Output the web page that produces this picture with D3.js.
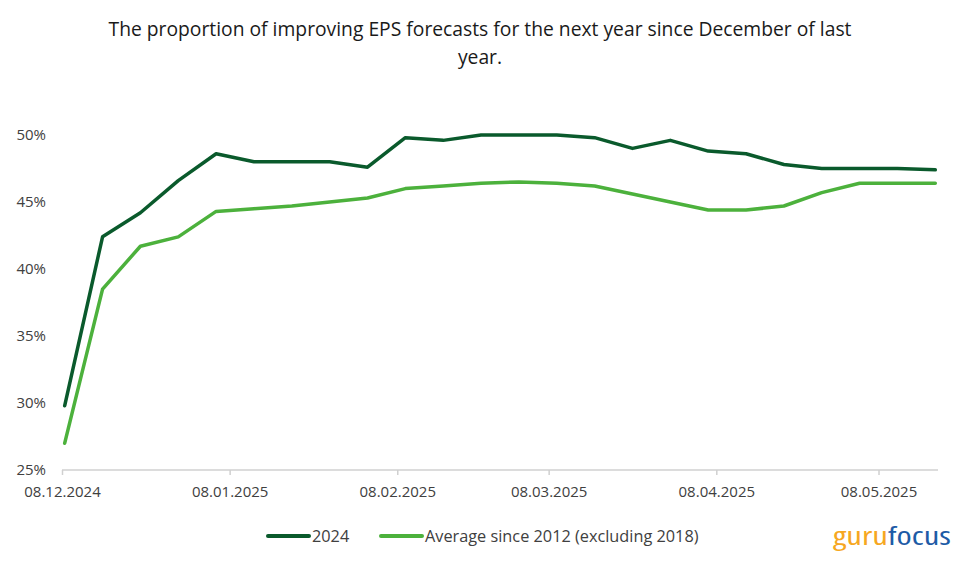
<!DOCTYPE html>
<html>
<head>
<meta charset="utf-8">
<script src="https://cdn.jsdelivr.net/npm/d3@7"></script>
<style>
  html, body { margin: 0; padding: 0; background: #fff; }
  svg { display: block; }
  text { font-family: "Open Sans", "Liberation Sans", sans-serif; }
</style>
</head>
<body>
<svg id="chart" width="960" height="565"></svg>
<script>
// ---- data ----
const startDate = "2024-12-08";
const weekCount = 24;
const series2024 = [29.8, 42.4, 44.2, 46.6, 48.6, 48.0, 48.0, 48.0, 47.6, 49.8, 49.6, 50.0,
                    50.0, 50.0, 49.8, 49.0, 49.6, 48.8, 48.6, 47.8, 47.5, 47.5, 47.5, 47.4];
const seriesAvg = [27.0, 38.5, 41.7, 42.4, 44.3, 44.5, 44.7, 45.0, 45.3, 46.0, 46.2, 46.4,
                   46.5, 46.4, 46.2, 45.6, 45.0, 44.4, 44.4, 44.7, 45.7, 46.4, 46.4, 46.4];
const yTicks = [25, 30, 35, 40, 45, 50];
const xTickLabels = ["08.12.2024", "08.01.2025", "08.02.2025", "08.03.2025", "08.04.2025", "08.05.2025"];
const seriesNames = ["2024", "Average since 2012 (excluding 2018)"];
const titleLines = ["The proportion of improving EPS forecasts for the next year since December of last", "year."];

// ---- build ----
const parse = d3.timeParse("%d.%m.%Y");
const iso = d3.timeParse("%Y-%m-%d");
const d0 = iso(startDate);
const dates = d3.range(weekCount).map(i => d3.timeHour.offset(d3.timeDay.offset(d0, 7 * i), 12));
const tickDates = xTickLabels.map(parse);

const svg = d3.select("#chart");
const x = d3.scaleTime().domain([d0, d3.timeDay.offset(d0, 162)]).range([62, 938]);
const y = d3.scaleLinear().domain([25, 50]).range([470, 135]);

const colors = ["#0a5a2c", "#4cb13c"];

// title
svg.append("g").selectAll("text").data(titleLines).join("text")
  .attr("x", 480).attr("y", (d, i) => 36 + i * 28)
  .attr("text-anchor", "middle")
  .attr("font-size", 19.3).attr("fill", "#1a1a1a")
  .text(d => d);

// y axis (labels only)
const yAxis = d3.axisLeft(y).tickValues(yTicks).tickSize(0).tickPadding(0)
  .tickFormat(d => d + "%");
const gy = svg.append("g").attr("transform", "translate(46,0)").call(yAxis);
gy.select(".domain").remove();
gy.selectAll("text").attr("font-size", 15).attr("fill", "#404040")
  .style("font-family", "'Open Sans', sans-serif");

// x axis
const xAxis = d3.axisBottom(x).tickValues(tickDates).tickSize(5).tickPadding(11)
  .tickFormat(d3.timeFormat("%d.%m.%Y"));
const gx = svg.append("g").attr("transform", "translate(0,470)").call(xAxis);
gx.select(".domain").attr("stroke", "#d0d0d0").attr("stroke-width", 1.5).attr("d", `M${x.range()[0]},0H${x.range()[1]}`);
gx.selectAll(".tick line").attr("stroke", "#d0d0d0").attr("stroke-width", 1.5);
gx.selectAll("text").attr("font-size", 15).attr("fill", "#404040")
  .style("font-family", "'Open Sans', sans-serif");

// lines
const line = d3.line().x((d, i) => x(dates[i])).y(d => y(d));
[seriesAvg, series2024].forEach((s, k) => {
  const ci = k === 0 ? 1 : 0;
  svg.append("path").datum(s)
    .attr("fill", "none").attr("stroke", colors[ci])
    .attr("stroke-width", 3.5).attr("stroke-linejoin", "round").attr("stroke-linecap", "round")
    .attr("d", line);
});

// legend
const legendX = [268, 381];
const lg = svg.append("g");
seriesNames.forEach((name, i) => {
  lg.append("line").attr("x1", legendX[i]).attr("x2", legendX[i] + 41)
    .attr("y1", 536).attr("y2", 536)
    .attr("stroke", colors[i]).attr("stroke-width", 4).attr("stroke-linecap", "round");
  lg.append("text").attr("x", legendX[i] + 44).attr("y", 542)
    .attr("font-size", 16.3).attr("fill", "#404040").text(name);
});

// logo
const logo = svg.append("text").attr("x", 833).attr("y", 545)
  .attr("font-size", 26).attr("font-family", "'DejaVu Sans Condensed', 'Liberation Sans Narrow', sans-serif")
  .attr("font-stretch", "condensed")
  .attr("textLength", 118).attr("lengthAdjust", "spacingAndGlyphs");
logo.append("tspan").attr("fill", "#f6a721").text("guru");
logo.append("tspan").attr("fill", "#1d5ba6").text("focus");
</script>
</body>
</html>
